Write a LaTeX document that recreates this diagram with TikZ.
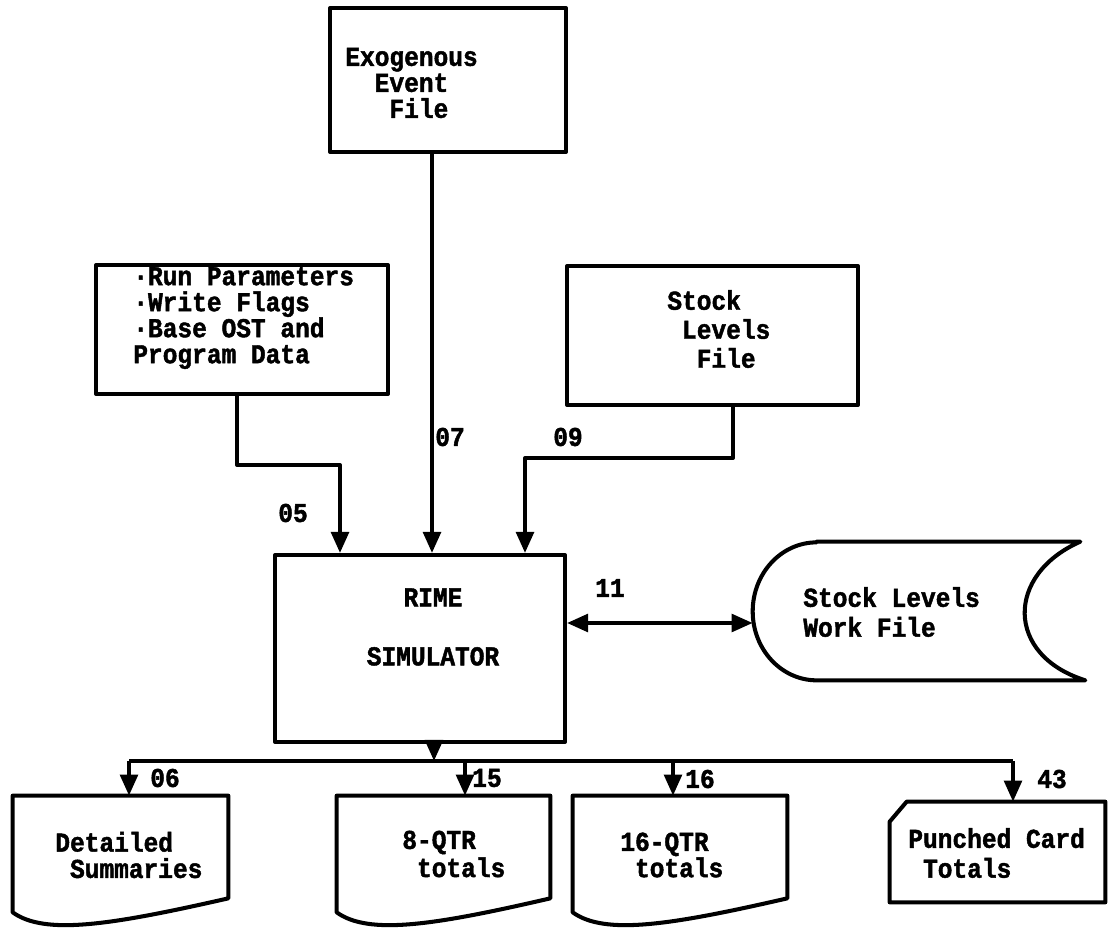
\documentclass[tikz,border=0pt]{standalone}
\usepackage{fontspec}
\newfontfamily\typew{Liberation Mono}[BoldFeatures={FakeBold=1.6},FakeStretch=0.9]
\usetikzlibrary{arrows.meta,calc}

\tikzset{
  flow/.style={line width=2.3pt,line join=round},
  arr/.style={flow,-{Triangle[length=12pt,width=10pt]}},
  dblarr/.style={flow,{Triangle[length=12pt,width=10pt]}-{Triangle[length=12pt,width=10pt]}},
  filebox/.style={draw,flow,rectangle,inner sep=0pt},
  outline/.style={rectangle,inner sep=0pt},
  txt/.style={font=\typew\bfseries\fontsize{15.5}{#1}\selectfont,inner sep=0pt,anchor=west,align=left},
  num/.style={font=\typew\bfseries\fontsize{15.5}{15}\selectfont,inner sep=0pt},
}

% printout with the ragged bottom edge
\newcommand{\docpath}[1]{%
  \draw[flow] (#1.north west) -- (#1.north east) -- (#1.south east)
    .. controls ($(#1.south west)+(97,27)$) and ($(#1.south west)+(32,37)$) ..
    ($(#1.south west)+(0,14)$) -- cycle;}

\begin{document}
\begin{tikzpicture}[x=0.02cm,y=-0.02cm]
\useasboundingbox (0,0) rectangle (1109,932);

% input files
\node[filebox,minimum width=4.72cm,minimum height=2.88cm] (exo) at (448,80) {};
\node[txt=14.8] (exotext) at (345,83) {Exogenous\\\hphantom{00}Event\\\hphantom{000}File};

\node[filebox,minimum width=5.84cm,minimum height=2.58cm] (param) at (242,329.5) {};
\node[txt=14.8] (paramtext) at (133,318) {·Run Parameters\\·Write Flags\\·Base OST and\\Program Data};

\node[filebox,minimum width=5.82cm,minimum height=2.78cm] (stock) at (712.5,335.5) {};
\node[txt=16.5] (stocktext) at (667,329) {Stock\\\hphantom{0}Levels\\\hphantom{00}File};

% simulator
\node[filebox,minimum width=5.8cm,minimum height=3.74cm] (rime) at (420,648.5) {};
\node[txt=33.6,anchor=center,align=center] (rimetext) at (433,627) {RIME\\SIMULATOR};

% work file (tape)
\node[outline,minimum width=6.64cm,minimum height=2.76cm] (work) at (919,611) {};
\draw[flow] ($(work.north west)+(64,0)$) -- ($(work.north east)+(-5,0)$)
  .. controls ($(work.north east)+(-80,33)$) and ($(work.south east)+(-80,-25)$) .. (work.south east)
  -- ($(work.south west)+(64,0)$) arc[start angle=270,end angle=90,x radius=1.28cm,y radius=1.38cm] -- cycle;
\node[txt=17] (worktext) at (803,612) {Stock Levels\\Work File};

% outputs
\node[outline,minimum width=4.3cm,minimum height=2.04cm] (det) at (120.5,847) {};
\docpath{det}
\node[txt=15] (dettext) at (55,855) {Detailed\\\hphantom{0}Summaries};

\node[outline,minimum width=4.26cm,minimum height=2.04cm] (qtr8) at (443.5,847) {};
\docpath{qtr8}
\node[txt=16] (qtr8text) at (402,854) {8-QTR\\\hphantom{0}totals};

\node[outline,minimum width=4.28cm,minimum height=2.04cm] (qtr16) at (680,847) {};
\docpath{qtr16}
\node[txt=15] (qtr16text) at (620,855) {16-QTR\\\hphantom{0}totals};

\node[outline,minimum width=4.3cm,minimum height=2cm] (card) at (997.5,852) {};
\draw[flow] ($(card.north west)+(17,0)$) -- (card.north east) -- (card.south east)
  -- (card.south west) -- ($(card.north west)+(0,20)$) -- cycle;
\node[txt=17] (cardtext) at (908,853) {Punched Card\\\hphantom{0}Totals};

% connectors in
\coordinate (c07) at (432,0);
\draw[arr] (c07 |- exo.south) -- (c07 |- rime.north);
\coordinate (e05) at (237,465);
\coordinate (f05) at (340,465);
\draw[arr] (e05 |- param.south) -- (e05) -- (f05) -- (f05 |- rime.north);
\coordinate (e09) at (733,458);
\coordinate (f09) at (525,458);
\draw[arr] (e09 |- stock.south) -- (e09) -- (f09) -- (f09 |- rime.north);
\coordinate (c11) at (0,623);
\draw[dblarr] (rime.east |- c11) -- (work.west |- c11);

% connectors out
\coordinate (busin) at (434,761);
\draw[arr] (busin |- rime.south) -- (busin);
\coordinate (b06) at (129,761);
\coordinate (b15) at (465,761);
\coordinate (b16) at (673,761);
\coordinate (b43) at (1013,761);
\draw[flow] (b06) -- (b43);
\foreach \b/\n in {b06/det,b15/qtr8,b16/qtr16,b43/card}
  \draw[arr] (\b) -- (\b |- \n.north);

% unit numbers
\node[num] (l05) at (293,513) {05};
\node[num] (l07) at (450,437) {07};
\node[num] (l09) at (568,437) {09};
\node[num] (l11) at (610,588) {11};
\node[num] (l06) at (165,778) {06};
\node[num] (l15) at (487,778) {15};
\node[num] (l16) at (700,779) {16};
\node[num] (l43) at (1052,779) {43};
\end{tikzpicture}
\end{document}
